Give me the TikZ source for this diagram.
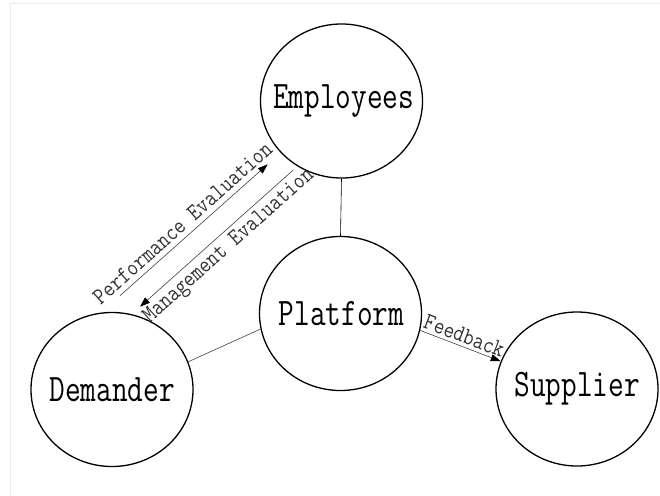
\documentclass[tikz,border=0pt]{standalone}
\usepackage{fontspec}
\newfontfamily\bigfont{Latin Modern Mono}[FakeStretch=0.78]
\newfontfamily\smallfont{Latin Modern Mono}[FakeStretch=0.85]
\usetikzlibrary{shapes.geometric,arrows.meta}
\begin{document}
\begin{tikzpicture}[x=1pt,y=-1pt,
  entity/.style={ellipse,draw=black,line width=1.3pt,minimum width=162pt,
    minimum height=154pt,inner sep=0pt},
  partytext/.style={font=\bigfont\fontsize{39}{40}\selectfont,inner sep=0pt},
  link/.style={draw=black!75,line width=0.6pt},
  tip/.style={Triangle[length=10pt,width=7pt,fill=black,color=black]},
  flow/.style={link,-{Triangle[length=10pt,width=7pt,color=black]}},
  backflow/.style={link,{Triangle[length=10pt,width=7pt,color=black]}-},
  lab/.style={font=\smallfont\fontsize{24}{26}\selectfont,text=black!80,
    sloped,inner sep=0pt}]
\useasboundingbox (0,0) rectangle (660,495);
% faint frame
\draw[black!8] (10,495) -- (10,3.5) -- (660,3.5);

% the four parties
\node[entity] (emp)  at (341.5,101)   {};
\node[entity] (plat) at (340.5,313.5) {};
\node[entity] (dem)  at (112,389.5)   {};
\node[entity] (sup)  at (577,389)     {};
\node[partytext] (empT)  at ([xshift=2pt]emp.center)  {Employees};
\node[partytext] (platT) at ([xshift=1pt]plat.center) {Platform};
\node[partytext] (demT)  at (dem.center)  {Demander};
\node[partytext] (supT)  at (sup.center)  {Supplier};

% plain links to the platform
\draw[link,draw=black] (emp.south) -- (plat.north);
\draw[link] (dem.20) -- (plat.191);

% evaluation arrows between demander and employees
\coordinate (p1) at (120,295.7);
\coordinate (p2) at (267.7,164.3);
\coordinate (m1) at (293.3,170);
\coordinate (m2) at (140,306.7);
\draw[flow] (p1) -- node[lab,above=5pt,pos=0.48] (perf) {Performance Evaluation} (p2);
\draw[backflow] (m2) -- node[lab,below=4pt,pos=0.52] (mgmt) {Management Evaluation} (m1);

% feedback from platform to supplier
\draw[flow] (plat.-12.6) -- node[lab,above=3pt,pos=0.5] (fb) {Feedback} (sup.160.4);
\end{tikzpicture}
\end{document}
